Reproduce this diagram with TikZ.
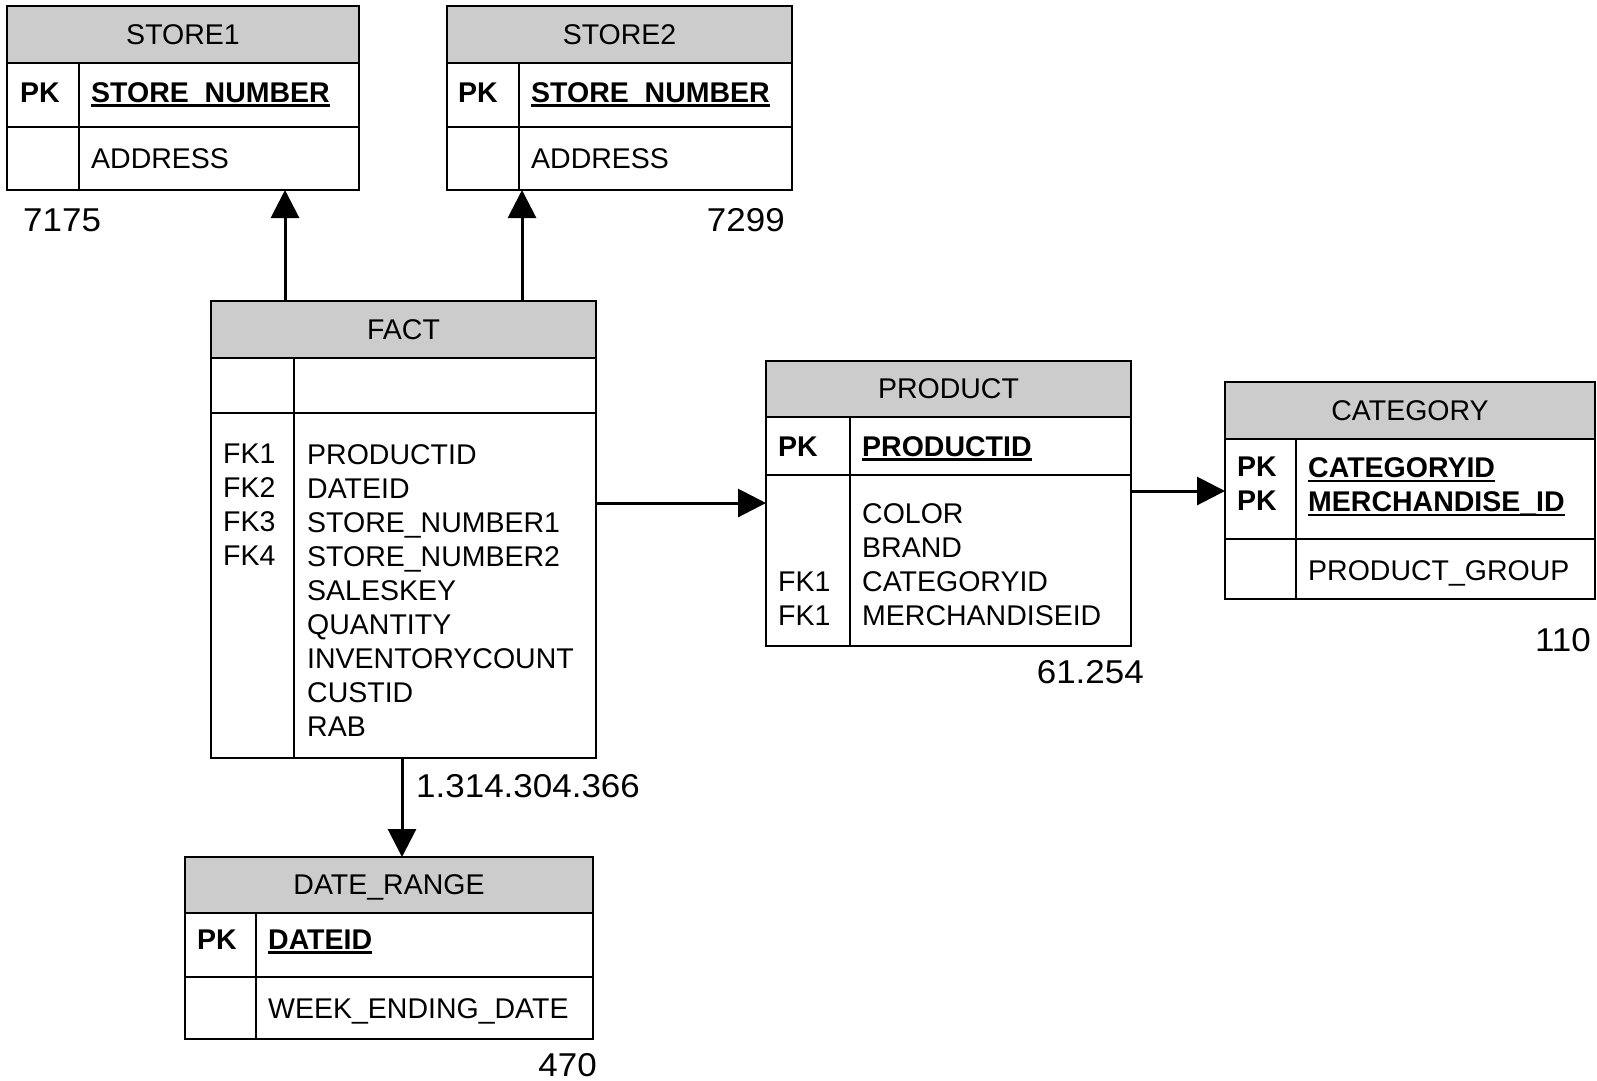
\documentclass[tikz,border=0pt]{standalone}
\usepackage{fontspec}
\setmainfont{Liberation Sans}
\newfontfamily\numfont[FakeStretch=1.06]{Liberation Sans}
\usetikzlibrary{arrows.meta, positioning}

\newcommand{\pkfield}[1]{\setbox0\hbox{\bfseries #1}\rlap{\usebox0}\rule[-4.8pt]{\wd0}{2.4pt}}

\begin{document}
\begin{tikzpicture}[x=1pt, y=-1pt,
  tbl/.style = {draw, line width=2pt, inner sep=0pt, outer sep=0pt, anchor=north west},
  head/.style = {tbl, fill=headgray, text depth=0pt},
  sep/.style = {line width=2pt},
  txt/.style = {inner sep=0pt, anchor=base west},
  blk/.style = {inner sep=0pt, anchor=north west, align=left},
  num/.style = {inner sep=0pt, anchor=base east, font=\numfont\fontsize{33}{40}\selectfont},
  link/.style = {line width=3pt, -{Triangle[length=28pt, width=28pt]}}]
\definecolor{headgray}{HTML}{CCCCCC}
\useasboundingbox (0,0) rectangle (1597,1080);
\fontsize{28.5}{34}\selectfont

% tables
\node[head, minimum width=352pt, minimum height=57pt] (store1-h) at (7,6) {STORE1};
\node[tbl, minimum width=352pt, minimum height=184pt] (store1) at (7,6) {};
\draw[sep] (7,127) -- (359,127);
\draw[sep] (79,63) -- (79,190);
\node[txt] (s1-pk) at (20,102) {\bfseries PK};
\node[txt] (s1-key) at (91,102) {\pkfield{STORE\_NUMBER}};
\node[txt] (s1-adr) at (91,168) {ADDRESS};
\node[num, anchor=base west] (s1-num) at (23,231) {7175};

\node[head, minimum width=345pt, minimum height=57pt] (store2-h) at (447,6) {STORE2};
\node[tbl, minimum width=345pt, minimum height=184pt] (store2) at (447,6) {};
\draw[sep] (447,127) -- (792,127);
\draw[sep] (519,63) -- (519,190);
\node[txt] (s2-pk) at (458,102) {\bfseries PK};
\node[txt] (s2-key) at (531,102) {\pkfield{STORE\_NUMBER}};
\node[txt] (s2-adr) at (531,168) {ADDRESS};
\node[num] (s2-num) at (785,231) {7299};

\node[head, minimum width=385pt, minimum height=57pt] (fact-h) at (211,301) {FACT};
\node[tbl, minimum width=385pt, minimum height=457pt] (fact) at (211,301) {};
\draw[sep] (211,413) -- (596,413);
\draw[sep] (294,358) -- (294,758);
\node[blk] (f-fk) at (223,444) {FK1\\FK2\\FK3\\FK4};
\node[blk] (f-cols) at (307,444) {PRODUCTID\\DATEID\\STORE\_NUMBER1\\STORE\_NUMBER2\\SALESKEY\\QUANTITY\\INVENTORYCOUNT\\CUSTID\\RAB};
\node[num, anchor=base west] (f-num) at (416,797) {1.314.304.366};

\node[head, minimum width=365pt, minimum height=56pt] (product-h) at (766,361) {PRODUCT};
\node[tbl, minimum width=365pt, minimum height=285pt] (product) at (766,361) {};
\draw[sep] (766,475) -- (1131,475);
\draw[sep] (850,417) -- (850,646);
\node[txt] (p-pk) at (778,456) {\bfseries PK};
\node[txt] (p-key) at (862,456) {\pkfield{PRODUCTID}};
\node[blk] (p-fk) at (778,572) {FK1\\FK1};
\node[blk] (p-cols) at (862,503) {COLOR\\BRAND\\CATEGORYID\\MERCHANDISEID};
\node[num] (p-num) at (1144,683) {61.254};

\node[head, minimum width=370pt, minimum height=57pt] (category-h) at (1225,382) {CATEGORY};
\node[tbl, minimum width=370pt, minimum height=217pt] (category) at (1225,382) {};
\draw[sep] (1225,539) -- (1595,539);
\draw[sep] (1296,439) -- (1296,599);
\node[blk, font=\bfseries] (c-pk) at (1237,457) {PK\\PK};
\node[blk] (c-key) at (1308,457) {\pkfield{CATEGORYID}\\\pkfield{MERCHANDISE\_ID}};
\node[txt] (c-grp) at (1308,580) {PRODUCT\_GROUP};
\node[num] (c-num) at (1591,651) {110};

\node[head, minimum width=408pt, minimum height=56pt] (date-h) at (185,857) {DATE\_RANGE};
\node[tbl, minimum width=408pt, minimum height=182pt] (date) at (185,857) {};
\draw[sep] (185,977) -- (593,977);
\draw[sep] (256,913) -- (256,1039);
\node[txt] (d-pk) at (197,949) {\bfseries PK};
\node[txt] (d-key) at (268,949) {\pkfield{DATEID}};
\node[txt] (d-wk) at (268,1018) {WEEK\_ENDING\_DATE};
\node[num] (d-num) at (597,1076) {470};

% links
\coordinate (l1) at (285,301);
\coordinate (l2) at (522,301);
\coordinate (l3) at (596,503);
\coordinate (l4) at (1131,491);
\coordinate (l5) at (402,758);
\draw[link] (l1) -- (l1 |- store1.south);
\draw[link] (l2) -- (l2 |- store2.south);
\draw[link] (l3) -- (l3 -| product.west);
\draw[link] (l4) -- (l4 -| category.west);
\draw[link] (l5) -- (l5 |- date.north);
\end{tikzpicture}
\end{document}
